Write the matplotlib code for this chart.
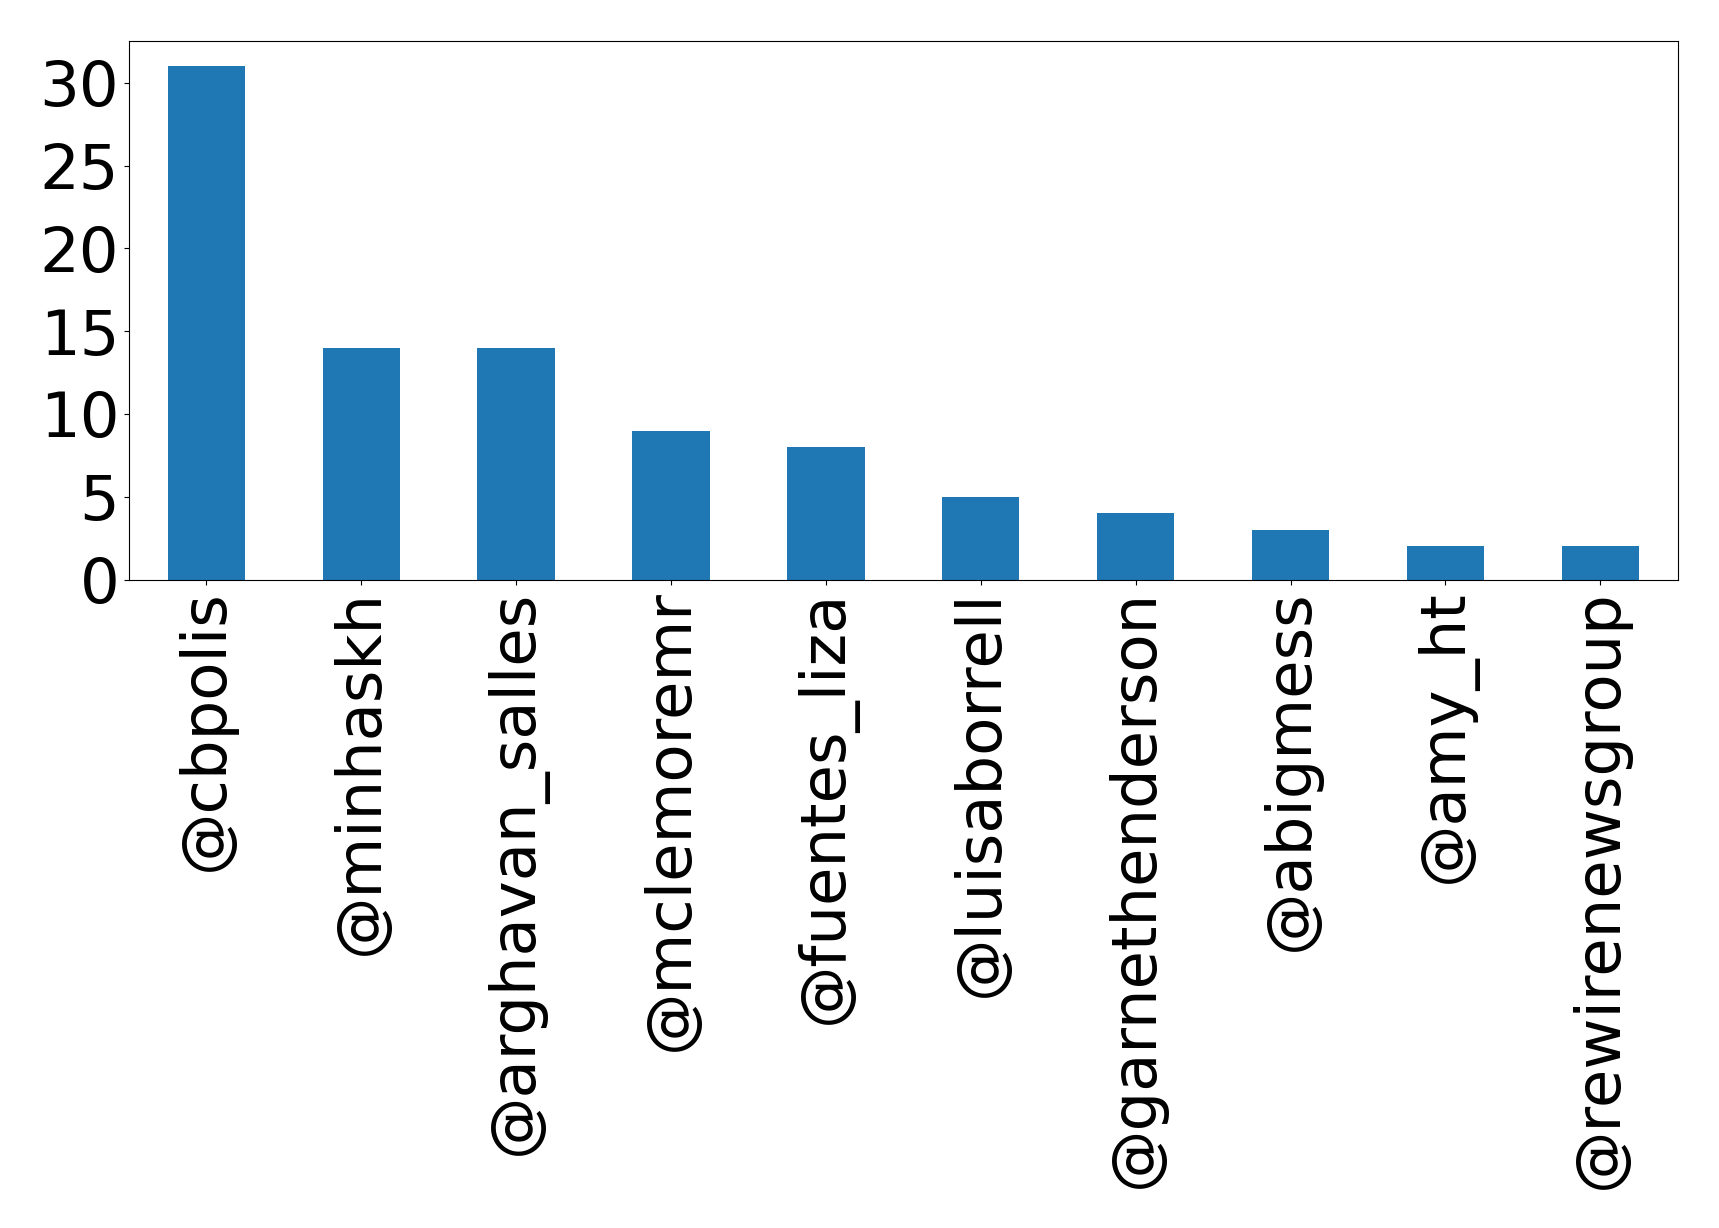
import matplotlib
matplotlib.use("Agg")
import matplotlib.pyplot as plt

# top mentioned accounts
handles = ["@cbpolis", "@minhaskh", "@arghavan_salles", "@mclemoremr", "@fuentes_liza",
           "@luisaborrell", "@garnethenderson", "@abigmess", "@amy_ht", "@rewirenewsgroup"]
counts = [31, 14, 14, 9, 8, 5, 4, 3, 2, 2]

fig, ax = plt.subplots(figsize=(17.19, 12.28), dpi=100)
fig.subplots_adjust(left=0.075, right=0.976, top=0.967, bottom=0.528)

x = list(range(len(handles)))
ax.bar(x, counts, width=0.5, color="#1f77b4")
ax.set_xlim(-0.5, len(handles) - 0.5)
ax.set_ylim(0, max(counts) * 1.05)
ax.set_yticks(range(0, 31, 5))
ax.set_xticks(x)
ax.set_xticklabels(handles, rotation=90)
ax.tick_params(labelsize=45)

fig.savefig("out.png", dpi=100)
